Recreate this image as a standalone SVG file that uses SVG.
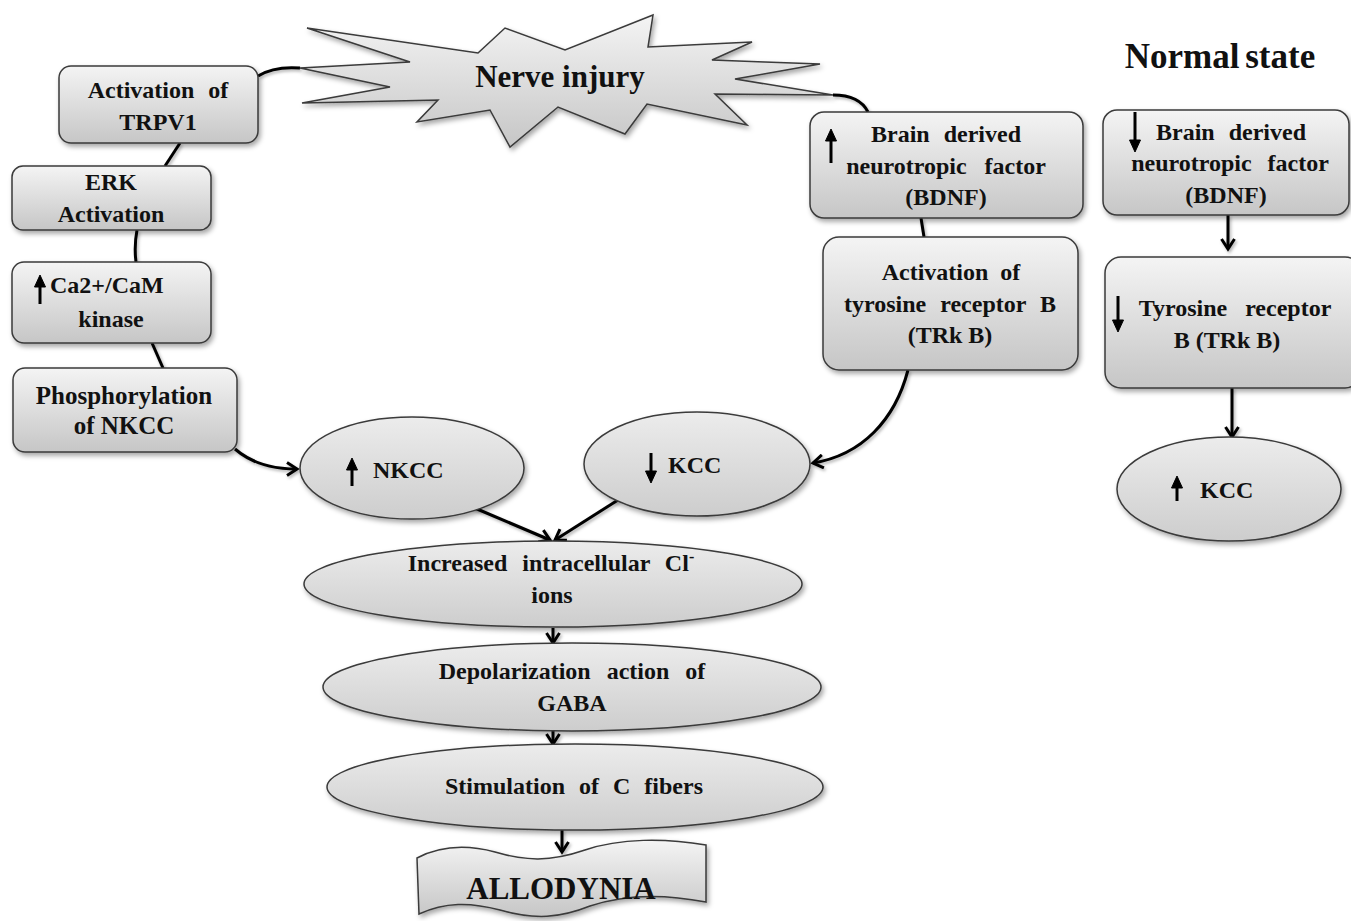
<svg xmlns="http://www.w3.org/2000/svg" width="1351" height="921" viewBox="0 0 1351 921">
<defs>
<style>
.t{font-family:"Liberation Serif","Times New Roman",serif;font-weight:bold;font-size:24px;fill:#111;text-anchor:middle}
.s{text-anchor:start}
.box{fill:url(#g);stroke:#3a3a3a;stroke-width:1.5;filter:url(#sh)}
.el{fill:url(#ge);stroke:#3a3a3a;stroke-width:1.5;filter:url(#sh)}
.c{fill:none;stroke:#000;stroke-width:3}
.ca{fill:none;stroke:#000;stroke-width:3;marker-end:url(#ah)}
.ia{fill:none;stroke:#000;stroke-width:3}
.ih{fill:#000;stroke:#000;stroke-width:1}
</style>
<linearGradient id="g" x1="0" y1="0" x2="0" y2="1">
<stop offset="0" stop-color="#f4f4f4"/><stop offset="1" stop-color="#c6c6c6"/>
</linearGradient>
<linearGradient id="ge" x1="0" y1="0" x2="0" y2="1">
<stop offset="0" stop-color="#ececec"/><stop offset="1" stop-color="#cdcdcd"/>
</linearGradient>
<filter id="sh" x="-10%" y="-10%" width="130%" height="140%">
<feDropShadow dx="2" dy="3" stdDeviation="2.5" flood-color="#000" flood-opacity="0.35"/>
</filter>
<filter id="sh2" filterUnits="userSpaceOnUse" x="0" y="0" width="1351" height="921">
<feDropShadow dx="1.5" dy="2" stdDeviation="1.5" flood-color="#000" flood-opacity="0.3"/>
</filter>
<marker id="ah" markerWidth="16" markerHeight="16" refX="12" refY="8" orient="auto" markerUnits="userSpaceOnUse">
<path d="M2,1.5 L12,8 L2,14.5" fill="none" stroke="#000" stroke-width="3" stroke-linejoin="miter"/>
</marker>
</defs>
<rect width="1351" height="921" fill="#fff"/>

<g id="connectors" filter="url(#sh2)">
<path class="c" d="M258,76 Q274,66 300,68"/>
<path class="c" d="M180,143 L165,166"/>
<path class="c" d="M137,230 Q134,246 136,262"/>
<path class="c" d="M152,343 L163,368"/>
<path class="ca" d="M235,449 C250,462 270,469 297,469"/>
<path class="c" d="M833,95 C850,95 862,100 868,112"/>
<path class="c" d="M921,218 L924,237"/>
<path class="ca" d="M908,370 C895,420 862,455 813,463"/>
<path class="ca" d="M470,506 L550,540"/>
<path class="ca" d="M618,500 L555,540"/>
<path class="ca" d="M553,628 L553,643"/>
<path class="ca" d="M553,731 L553,744"/>
<path class="ca" d="M562,830 L562,852"/>
<path class="ca" d="M1228,215 L1228,249"/>
<path class="ca" d="M1232,388 L1232,437"/>
</g>

<g id="nerve-injury">
<polygon class="box" points="307,28 478,53 505,28 565,50 653,15 648,47 752,42 712,60 820,64 735,79 833,95 715,94 747,125 647,104 625,134 558,107 510,147 490,110 417,122 438,100 302,103 390,87 300,68 410,62"/>
<text class="t" x="560" y="87" style="font-size:31px">Nerve injury</text>
</g>

<g id="trpv1">
<rect class="box" x="59" y="66" width="199" height="77" rx="12"/>
<text class="t" x="158" y="98" word-spacing="8">Activation of</text>
<text class="t" x="158" y="130">TRPV1</text>
</g>

<g id="erk">
<rect class="box" x="12" y="166" width="199" height="64" rx="11"/>
<text class="t" x="111" y="190">ERK</text>
<text class="t" x="111" y="222">Activation</text>
</g>

<g id="camk">
<rect class="box" x="12" y="262" width="199" height="81" rx="12"/>
<path class="ia" d="M40,304 L40,284"/>
<path class="ih" d="M34.5,287 L40,275 L45.5,287 Z"/>
<text class="t s" x="50" y="293">Ca2+/CaM</text>
<text class="t" x="111" y="327">kinase</text>
</g>

<g id="phos">
<rect class="box" x="13" y="368" width="224" height="84" rx="12"/>
<text class="t" x="124" y="404" style="font-size:25px">Phosphorylation</text>
<text class="t" x="124" y="434" style="font-size:25px">of NKCC</text>
</g>

<g id="bdnf">
<rect class="box" x="810" y="112" width="273" height="106" rx="14"/>
<path class="ia" d="M831,163 L831,139"/>
<path class="ih" d="M825.5,141 L831,129 L836.5,141 Z"/>
<text class="t" x="946" y="142" word-spacing="8">Brain derived</text>
<text class="t" x="946" y="174" word-spacing="12">neurotropic factor</text>
<text class="t" x="946" y="205">(BDNF)</text>
</g>

<g id="trkb">
<rect class="box" x="823" y="237" width="255" height="133" rx="16"/>
<text class="t" x="951" y="280" word-spacing="6">Activation of</text>
<text class="t" x="950" y="312" word-spacing="8">tyrosine receptor B</text>
<text class="t" x="950" y="343">(TRk B)</text>
</g>

<g id="normal-state">
<text class="t" x="1220" y="68" style="font-size:35px" word-spacing="-3">Normal state</text>
</g>

<g id="n-bdnf">
<rect class="box" x="1103" y="110" width="246" height="105" rx="14"/>
<path class="ia" d="M1135,112 L1135,142"/>
<path class="ih" d="M1129.5,140 L1135,152 L1140.5,140 Z"/>
<text class="t" x="1231" y="140" word-spacing="8">Brain derived</text>
<text class="t" x="1230" y="171" word-spacing="10">neurotropic factor</text>
<text class="t" x="1226" y="203">(BDNF)</text>
</g>

<g id="n-trkb">
<rect class="box" x="1105" y="257" width="256" height="131" rx="16"/>
<path class="ia" d="M1118,296 L1118,322"/>
<path class="ih" d="M1112.5,320 L1118,332 L1123.5,320 Z"/>
<text class="t" x="1235" y="316" word-spacing="12">Tyrosine receptor</text>
<text class="t" x="1227" y="348">B (TRk B)</text>
</g>

<g id="n-kcc">
<ellipse class="el" cx="1229" cy="489" rx="112" ry="52"/>
<path class="ia" d="M1177,501 L1177,486"/>
<path class="ih" d="M1171.5,488 L1177,476 L1182.5,488 Z"/>
<text class="t s" x="1200" y="498">KCC</text>
</g>

<g id="nkcc">
<ellipse class="el" cx="412" cy="468" rx="112" ry="51"/>
<path class="ia" d="M352,486 L352,468"/>
<path class="ih" d="M346.5,470 L352,458 L357.5,470 Z"/>
<text class="t s" x="373" y="478">NKCC</text>
</g>

<g id="kcc">
<ellipse class="el" cx="697" cy="464" rx="113" ry="52"/>
<path class="ia" d="M651,453 L651,473"/>
<path class="ih" d="M645.5,471 L651,483 L656.5,471 Z"/>
<text class="t s" x="668" y="473">KCC</text>
</g>

<g id="cl">
<ellipse class="el" cx="553" cy="584" rx="249" ry="43"/>
<text class="t" x="551" y="571" word-spacing="9">Increased intracellular Cl<tspan dy="-9" style="font-size:16px">-</tspan></text>
<text class="t" x="552" y="603">ions</text>
</g>

<g id="gaba">
<ellipse class="el" cx="572" cy="687" rx="249" ry="44"/>
<text class="t" x="572" y="679" word-spacing="10">Depolarization action of</text>
<text class="t" x="572" y="711">GABA</text>
</g>

<g id="cfibers">
<ellipse class="el" cx="575" cy="787" rx="248" ry="43"/>
<text class="t" x="574" y="794" word-spacing="8">Stimulation of C fibers</text>
</g>

<g id="allodynia">
<path class="box" d="M417,858 C440,846 465,844 495,852 C525,861 550,862 585,850 C620,838 665,838 706,845 L706,902 C665,894 625,894 590,906 C560,918 535,920 500,910 C470,902 445,902 419,914 Z"/>
<text class="t" x="561" y="899" style="font-size:31px">ALLODYNIA</text>
</g>
</svg>
